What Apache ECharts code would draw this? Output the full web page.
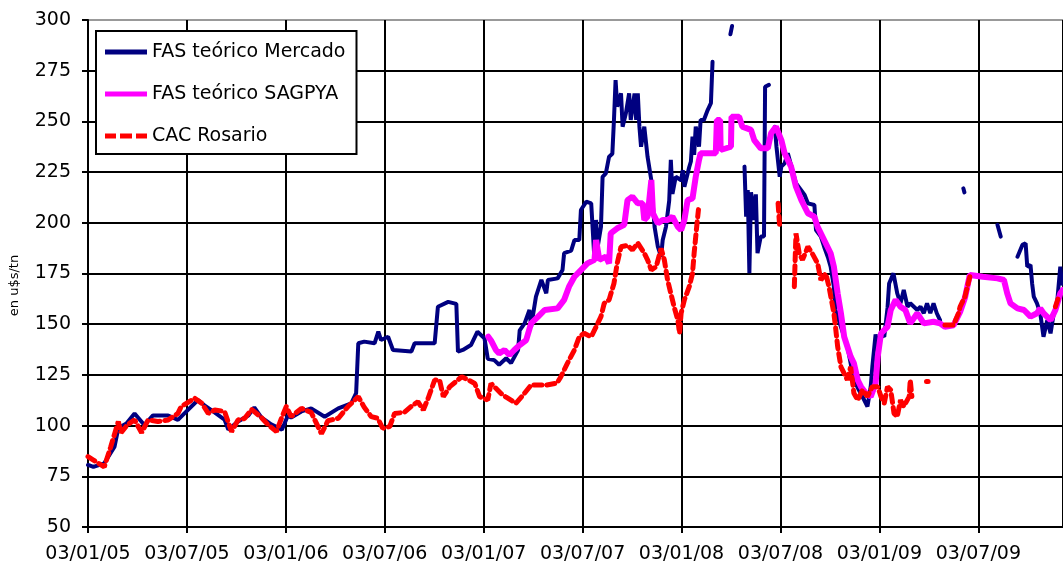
<!DOCTYPE html>
<html>
<head>
<meta charset="utf-8">
<script src="https://cdn.jsdelivr.net/npm/echarts@6/dist/echarts.min.js"></script>
<style>
html,body{margin:0;padding:0;background:#fff;}
#chart{width:1063px;height:568px;}
</style>
</head>
<body>
<div id="chart"></div>
<script>
// ---- DATA ----
const seriesNames = ['FAS teórico Mercado', 'FAS teórico SAGPYA', 'CAC Rosario'];
const xTickLabels = ['03/01/05','03/07/05','03/01/06','03/07/06','03/01/07','03/07/07','03/01/08','03/07/08','03/01/09','03/07/09'];
const startDate = '2005-01-03';
const endDate = '2009-12-08';

const mercadoDates = [
'2005-01-03','2005-01-13','2005-02-02','2005-02-21','2005-02-28','2005-03-15','2005-03-30','2005-04-17','2005-05-03','2005-05-31',
'2005-06-18','2005-06-30','2005-07-25','2005-08-06','2005-08-22','2005-09-12','2005-09-19','2005-10-07','2005-10-26','2005-11-06',
'2005-11-19','2005-12-08','2005-12-27','2006-01-07','2006-01-13','2006-02-01','2006-02-19','2006-03-16','2006-04-10','2006-05-04',
'2006-05-13','2006-05-17','2006-05-28','2006-06-16','2006-06-23','2006-06-28','2006-07-11','2006-07-20','2006-08-23','2006-08-29',
'2006-10-05','2006-10-11','2006-10-30','2006-11-14','2006-11-17','2006-11-26','2006-12-11','2006-12-23','2007-01-05','2007-01-11',
'2007-01-23','2007-02-01','2007-02-14','2007-02-23','2007-03-08','2007-03-11','2007-03-20','2007-03-29','2007-04-01','2007-04-10',
'2007-04-20','2007-04-29','2007-05-02','2007-05-20','2007-05-29','2007-06-01','2007-06-14','2007-06-20','2007-06-29','2007-07-02',
'2007-07-12','2007-07-21','2007-07-27','2007-07-30','2007-08-02','2007-08-08','2007-08-11','2007-08-17','2007-08-23','2007-08-29',
'2007-09-01','2007-09-04','2007-09-07','2007-09-14','2007-09-17','2007-09-23','2007-09-29','2007-10-02','2007-10-09','2007-10-12',
'2007-10-15','2007-10-18','2007-10-21','2007-10-27','2007-11-02','2007-11-09','2007-11-12','2007-11-15','2007-11-21','2007-11-27',
'2007-11-30','2007-12-06','2007-12-12','2007-12-15','2007-12-18','2007-12-24','2008-01-03','2008-01-06','2008-01-09','2008-01-18',
'2008-01-21','2008-01-24','2008-01-27','2008-01-30','2008-02-05','2008-02-08','2008-02-14','2008-02-21','2008-02-27','2008-03-01',
'2008-03-15',
'2008-04-03','2008-04-06',
'2008-04-15',
'2008-04-29','2008-05-02','2008-05-05','2008-05-08','2008-05-11','2008-05-14','2008-05-17','2008-05-20','2008-05-23','2008-05-29',
'2008-06-04','2008-06-06','2008-06-13',
'2008-06-18',
'2008-06-24','2008-06-27','2008-07-03','2008-07-06','2008-07-12','2008-07-18','2008-08-02','2008-08-18','2008-08-24','2008-09-05',
'2008-09-08','2008-09-17','2008-09-23','2008-09-30','2008-10-05','2008-10-11','2008-10-14','2008-10-24','2008-11-05','2008-11-11',
'2008-11-17','2008-11-26','2008-12-06','2008-12-12','2008-12-18','2008-12-21','2008-12-27','2008-12-31','2009-01-06','2009-01-12',
'2009-01-18','2009-01-21','2009-01-29','2009-02-05','2009-02-11','2009-02-17','2009-02-24','2009-03-01','2009-03-14','2009-03-20',
'2009-03-26','2009-04-01','2009-04-07','2009-04-13','2009-04-19','2009-04-25',
'2009-05-15',
'2009-06-07','2009-06-09',
'2009-07-10',
'2009-08-09','2009-08-15',
'2009-09-01',
'2009-09-15','2009-09-24','2009-09-30','2009-10-03','2009-10-09','2009-10-12','2009-10-15','2009-10-21','2009-10-27','2009-11-02',
'2009-11-09','2009-11-15','2009-11-21','2009-11-27','2009-12-03','2009-12-06'
];
const mercadoValues = [
80.6,79.6,81.4,89.6,98.8,101,106,100.3,105,105,
102.8,106,112.6,110,107,103,98,102,105,109,
104,100.5,98,105,104,107,108.5,104.4,108.5,111,
116,140.6,141.4,140.6,146.3,142.2,143.8,137.3,136.5,140.6,
140.6,158.6,161,160,136.5,137.3,139.7,146.3,143,133,
132.3,130,133.2,130.8,137.3,147,150.4,157,148.7,163.6,
171.8,165.2,171.8,172.6,176.7,185,186.3,191.5,191.5,206.3,
210.4,209.6,181.7,201.4,188.2,198,222.7,224.4,232.6,234,
250.7,270.4,257.3,263.8,247.4,254,263.8,250.7,263.8,250.7,
263.8,247.4,237.5,247.4,232.6,221,208,198,188.2,183.3,
191.5,198,211,231,214.3,222.7,221,226,217.8,227.5,
230.2,242.5,233.5,247.4,237.5,250.7,250.7,255.6,259,279.4,
null,
293,297,
null,
227.7,203,216.2,175.1,215,210,201.4,214,185,193.2,
193.2,267.1,268,
null,
247.4,237.5,222.7,227.7,229.3,234.3,219.5,213.7,209.6,208.8,
196.4,193.2,188.2,183,178.4,168.5,157,148.7,138.9,130.7,
122.5,117.6,112.6,109.4,119.2,129,145,138.9,145,143.8,
158,170.1,175.1,165.2,160.3,166.9,158.6,160.3,157,158.6,
155.4,160.3,155.4,160.3,155.4,152,
null,
217,215,
null,
199,193.2,
null,
183.3,189.1,189.9,178.4,179.2,170.1,163.6,160.3,155.4,143.8,
152,145.5,155.4,160.3,178.4,170
];

const sagpyaDates = [
'2007-01-12','2007-01-17','2007-01-26','2007-02-01','2007-02-11','2007-02-20','2007-03-01','2007-03-11','2007-03-23','2007-04-01',
'2007-04-14','2007-04-26','2007-05-20','2007-06-01','2007-06-10','2007-06-20','2007-07-02','2007-07-14','2007-07-27','2007-07-30',
'2007-08-05','2007-08-17','2007-08-23','2007-08-26','2007-09-07','2007-09-20','2007-09-26','2007-10-05','2007-10-15','2007-10-24',
'2007-10-27','2007-11-02','2007-11-09','2007-11-12','2007-11-21','2007-11-30','2007-12-09','2007-12-18','2007-12-28','2008-01-03',
'2008-01-09','2008-01-15','2008-01-24','2008-01-30','2008-02-05','2008-02-08','2008-02-21','2008-03-07','2008-03-09','2008-03-15',
'2008-03-16','2008-04-04','2008-04-05','2008-04-19','2008-04-25','2008-05-11','2008-05-17','2008-05-29','2008-06-11','2008-06-17',
'2008-06-26','2008-07-06','2008-07-12','2008-07-18','2008-07-24','2008-08-02','2008-08-12','2008-08-24','2008-09-05','2008-09-11',
'2008-09-23','2008-10-05','2008-10-11','2008-10-18','2008-10-24','2008-10-30','2008-11-05','2008-11-11','2008-11-17','2008-11-24',
'2008-11-30','2008-12-09','2008-12-18','2008-12-27','2008-12-31','2009-01-06','2009-01-18','2009-01-24','2009-02-02','2009-02-11',
'2009-02-20','2009-03-01','2009-03-14','2009-03-26','2009-04-13','2009-04-25','2009-05-04','2009-05-20','2009-06-01','2009-06-10',
'2009-06-19','2009-07-13','2009-08-09','2009-08-21','2009-08-27','2009-09-02','2009-09-15','2009-09-27','2009-10-09','2009-10-21',
'2009-10-27','2009-11-02','2009-11-15','2009-11-24','2009-12-03','2009-12-08'
];
const sagpyaValues = [
143.8,142,137.3,135.6,137.3,134.8,137.3,139.7,142.2,150.4,
153.7,157,157.8,162,168.5,173.4,176.7,180,181.7,191.5,
181.7,183.3,180,194.8,197.3,199,211.2,212.9,209.6,209.6,
201.4,203,221.1,204.7,199.7,201.4,201.4,203,198,196.4,
201.4,211.2,212,222.7,231,234.3,234.3,234.3,250.7,250.7,
235.9,237.5,252.3,252.3,247.4,245.8,240.8,236.7,236.7,244.1,
247.4,240.8,234.3,231,227.7,217.8,211.2,204.7,203,198,
191.5,185,178.4,165.2,155.4,143.8,138.9,134,130.7,122.5,
119.2,115.9,114.3,120.8,134,145.5,148.7,157,162,158.6,
157,150.4,155.4,150.4,151.2,150.4,148.7,149.5,156,163,
174.3,173.4,172.6,171.8,165.2,160.3,157.8,157,153.7,155.4,
157.8,155.4,152,157,165.2,166.9
];

const cacDates = [
'2005-01-03','2005-01-13','2005-02-02','2005-02-14','2005-02-28','2005-03-05','2005-03-17','2005-03-30','2005-04-12','2005-04-24',
'2005-05-12','2005-05-31','2005-06-18','2005-06-24','2005-07-19','2005-08-01','2005-08-13','2005-08-25','2005-09-12','2005-09-25',
'2005-10-07','2005-10-19','2005-11-01','2005-11-19','2005-12-01','2005-12-17','2005-12-26','2006-01-04','2006-01-13','2006-02-01',
'2006-02-19','2006-03-10','2006-03-22','2006-04-10','2006-04-28','2006-05-17','2006-05-28','2006-06-10','2006-06-22','2006-07-01',
'2006-07-14','2006-07-23','2006-08-10','2006-08-23','2006-09-04','2006-09-14','2006-09-23','2006-10-05','2006-10-14','2006-10-21',
'2006-11-02','2006-11-24','2006-12-06','2006-12-18','2006-12-27','2007-01-11','2007-01-17','2007-02-04','2007-02-14','2007-03-04',
'2007-03-17','2007-04-01','2007-04-29','2007-05-19','2007-05-26','2007-06-07','2007-06-20','2007-06-29','2007-07-08','2007-07-21',
'2007-07-30','2007-08-08','2007-08-14','2007-08-23','2007-09-01','2007-09-07','2007-09-14','2007-09-26','2007-10-05','2007-10-15',
'2007-10-27','2007-11-02','2007-11-09','2007-11-18','2007-11-27','2007-12-03','2007-12-09','2007-12-15','2007-12-21','2007-12-28',
'2007-12-31','2008-01-03','2008-01-09','2008-01-18','2008-01-24','2008-01-27','2008-02-02','2008-02-04',
'2008-04-15',
'2008-06-30','2008-07-03',
'2008-07-17',
'2008-07-30','2008-08-02','2008-08-08','2008-08-14','2008-08-24','2008-09-01','2008-09-11','2008-09-17','2008-09-26','2008-10-02',
'2008-10-11','2008-10-14','2008-10-18','2008-10-24','2008-11-05','2008-11-11','2008-11-17','2008-11-24','2008-12-03','2008-12-12',
'2008-12-21','2008-12-31','2009-01-06','2009-01-12','2009-01-18','2009-01-24','2009-01-30','2009-02-05','2009-02-11','2009-02-17',
'2009-02-27','2009-03-01','2009-03-04',
'2009-03-18',
'2009-03-31','2009-04-03',
'2009-04-18',
'2009-05-04','2009-05-20','2009-05-29','2009-06-01','2009-06-10','2009-06-13','2009-06-19',
'2009-09-01',
'2009-11-24','2009-11-30'
];
const cacValues = [
84.7,83,79.6,89.6,102,96.5,100.5,102.8,96.5,102.8,
102,102.8,106,109.4,113.5,111,106,107.7,107,97,
102.8,103.5,108,104,100.5,97,103.5,109.4,104.4,108.5,
106.5,96,102.4,103.6,109.4,114.3,109,104.4,103.6,98.7,
99.5,106,106.5,109.5,111.8,107.7,113.5,122.5,122.5,114.3,
119.2,124.1,122.5,120.8,114.3,112.6,120.8,116,114,111,
115,120,120,121,124.1,130.7,137.3,143.8,145.5,143.8,
148.7,153.7,160.3,162,170.1,180,188.2,188.9,186.6,190,
185,181.7,176.7,178.4,187.4,181.7,171.8,165.2,158.6,152,
145.5,155.4,162,168.5,175,185,201.4,206.5,
null,
209.6,198,
null,
168.5,194.8,185,181.7,188.2,184.9,180,171.8,175,168.5,
155.4,148.7,138.9,129,122.5,129,115.9,112.6,117.6,114.3,
119.2,119.2,114.3,111,119.2,117.6,106,104.4,112.6,109.4,
114.3,122.5,114.3,
null,
121.7,121.7,
null,
149.6,149.6,155.4,158.6,163.6,166.9,173.4,
null,
158.6,163.6
];

// ---- BUILD ----
const DAY = 86400000;
const t0 = Date.parse(startDate + 'T00:00:00Z');
function toDay(d){ return (Date.parse(d + 'T00:00:00Z') - t0) / DAY; }
function pairs(dates, vals){ return dates.map((d,i)=>[toDay(d), vals[i] === null ? '-' : vals[i]]); }
const HALF_YEAR = 182.625;
const xMax = toDay(endDate);

const chart = echarts.init(document.getElementById('chart'), null, {renderer:'canvas'});
const FONT = '"DejaVu Sans", sans-serif';
const ySplitColors = ['#000','#000','#000','#000','#000','#000','#000','#000','#000','#000','#999'];
chart.setOption({
  animation:false,
  backgroundColor:'#fff',
  grid:{left:86, right:0, top:20, bottom:41, containLabel:false},
  legend:{
    show:true, orient:'vertical', left:96, top:31,
    data:[
      {name:seriesNames[0], icon:'rect'},
      {name:seriesNames[1], icon:'rect'},
      {name:seriesNames[2], icon:'path://M0,0h11v5h-11z M15,0h12v5h-12z M31,0h11v5h-11z'}
    ],
    itemWidth:42, itemHeight:5, itemGap:20,
    padding:[10,11,7,9],
    borderColor:'#000', borderWidth:2, backgroundColor:'#fff',
    textStyle:{fontFamily:FONT, fontSize:19, color:'#000', lineHeight:22},
    selectedMode:false
  },
  xAxis:{
    type:'value', min:0, max:xMax, interval:HALF_YEAR,
    axisLine:{show:false},
    axisTick:{show:true, length:6, lineStyle:{color:'#000', width:2}},
    splitLine:{show:true, lineStyle:{color:'#000', width:2}},
    axisLabel:{
      fontFamily:FONT, fontSize:19, color:'#000', margin:18, showMaxLabel:false,
      formatter:function(v){
        const k = Math.round(v / HALF_YEAR);
        if (Math.abs(v - k*HALF_YEAR) > 1) return '';
        return xTickLabels[k] || '';
      }
    }
  },
  yAxis:{
    type:'value', min:50, max:300, interval:25,
    name:'en u$s/tn', nameLocation:'middle', nameGap:67, nameRotate:90,
    nameTextStyle:{fontFamily:FONT, fontSize:13, color:'#000', padding:[0,24,0,0]},
    axisLine:{show:true, lineStyle:{color:'#000', width:2}},
    axisTick:{show:true, length:6, lineStyle:{color:'#000', width:2}},
    splitLine:{show:true, lineStyle:{color:ySplitColors, width:2}},
    axisLabel:{fontFamily:FONT, fontSize:19, color:'#000', margin:17}
  },
  series:[
    {name:seriesNames[0], type:'line', data:pairs(mercadoDates, mercadoValues), symbol:'none', connectNulls:false,
     lineStyle:{color:'#000080', width:4, cap:'round'}, itemStyle:{color:'#000080'}},
    {name:seriesNames[1], type:'line', data:pairs(sagpyaDates, sagpyaValues), symbol:'none', connectNulls:false,
     lineStyle:{color:'#ff00ff', width:6, cap:'round'}, itemStyle:{color:'#ff00ff'}},
    {name:seriesNames[2], type:'line', data:pairs(cacDates, cacValues), symbol:'none', connectNulls:false,
     lineStyle:{color:'#ff0000', width:5, type:[8,5], cap:'round'}, itemStyle:{color:'#ff0000'}}
  ]
});
</script>
</body>
</html>
